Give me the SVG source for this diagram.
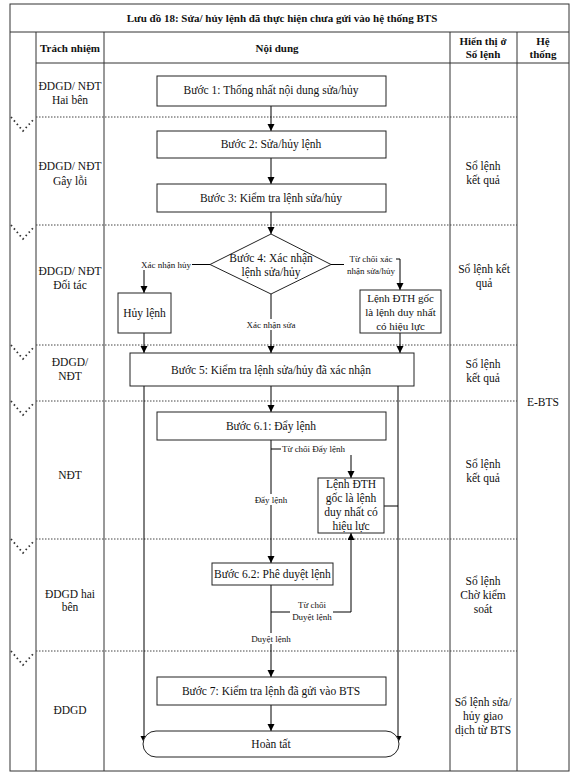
<svg xmlns="http://www.w3.org/2000/svg" width="576" height="782" viewBox="0 0 576 782">
<defs>
<marker id="ah" markerUnits="userSpaceOnUse" markerWidth="8" markerHeight="8" refX="7" refY="3.5" orient="auto">
<path d="M0,0 L7,3.5 L0,7 z" fill="#000"/>
</marker>
<style>
text{font-family:"Liberation Serif","Times New Roman",serif;fill:#111;}
.t{font-size:11.5px;text-anchor:middle;}
.n{font-size:11px;text-anchor:middle;}
.s{font-size:9px;text-anchor:middle;}
.h{font-size:11px;font-weight:bold;text-anchor:middle;}
.box{fill:#fff;stroke:#222;stroke-width:1;}
.grid{stroke:#333;stroke-width:1;fill:none;}
.dot{stroke:#444;stroke-width:1;stroke-dasharray:1.5,1.5;fill:none;}
.chev{stroke:#333;stroke-width:1.8;stroke-dasharray:1.5,3;fill:none;}
.c{stroke:#000;stroke-width:1;fill:none;}
.a{stroke:#000;stroke-width:1;fill:none;marker-end:url(#ah);}
.bg{fill:#fff;}
</style>
</defs>
<rect width="576" height="782" fill="#fff"/>
<g id="table">
<rect x="10" y="4" width="559" height="767" class="grid"/>
<line x1="10" y1="32" x2="569" y2="32" class="grid"/>
<line x1="36" y1="63" x2="569" y2="63" class="grid"/>
<line x1="36" y1="32" x2="36" y2="771" class="grid"/>
<line x1="104" y1="32" x2="104" y2="771" class="grid"/>
<line x1="450" y1="32" x2="450" y2="771" class="grid"/>
<line x1="517" y1="32" x2="517" y2="771" class="grid"/>
<path class="dot" d="M36,117H517M36,225H517M36,345H517M36,401H517M36,539H517M36,651H517"/>
<path class="chev" d="M11,117L23,131L34,119M11,225L23,239L34,227M11,345L23,359L34,347M11,401L23,415L34,403M11,539L23,553L34,541M11,651L23,665L34,653"/>
<text x="282" y="22" class="h">Lưu đồ 18: Sửa/ hủy lệnh đã thực hiện chưa gửi vào hệ thống BTS</text>
<text x="70" y="52" class="h">Trách nhiệm</text>
<text x="277" y="52" class="h">Nội dung</text>
<text x="483" y="45" class="h">Hiển thị ở</text>
<text x="483" y="58" class="h">Sổ lệnh</text>
<text x="543" y="45" class="h">Hệ</text>
<text x="543" y="58" class="h">thống</text>
<text x="70" y="90" class="t">ĐDGD/ NĐT</text>
<text x="70" y="104" class="t">Hai bên</text>
<text x="70" y="170" class="t">ĐDGD/ NĐT</text>
<text x="70" y="185" class="t">Gây lỗi</text>
<text x="70" y="275" class="t">ĐDGD/ NĐT</text>
<text x="70" y="289" class="t">Đối tác</text>
<text x="70" y="366" class="t">ĐDGD/</text>
<text x="70" y="380" class="t">NĐT</text>
<text x="70" y="479" class="t">NĐT</text>
<text x="70" y="598" class="t">ĐDGD hai</text>
<text x="70" y="611" class="t">bên</text>
<text x="70" y="714" class="t">ĐDGD</text>
<text x="483" y="170" class="t">Sổ lệnh</text>
<text x="483" y="184" class="t">kết quả</text>
<text x="484" y="273" class="t">Sổ lệnh kết</text>
<text x="484" y="287" class="t">quả</text>
<text x="483" y="368" class="t">Sổ lệnh</text>
<text x="483" y="382" class="t">kết quả</text>
<text x="483" y="468" class="t">Sổ lệnh</text>
<text x="483" y="482" class="t">kết quả</text>
<text x="483" y="585" class="t">Sổ lệnh</text>
<text x="483" y="599" class="t">Chờ kiểm</text>
<text x="483" y="613" class="t">soát</text>
<text x="483" y="706" class="t">Sổ lệnh sửa/</text>
<text x="483" y="720" class="t">hủy giao</text>
<text x="483" y="734" class="t">dịch từ BTS</text>
<text x="543" y="406" class="t">E-BTS</text>
</g>
<g id="connectors">
<path class="a" d="M271,106V131"/>
<path class="a" d="M271,158V184"/>
<path class="a" d="M271,212V234"/>
<path class="c" d="M210,264.5H192"/>
<path class="a" d="M144,270V293"/>
<path class="c" d="M331,264.5H344"/>
<path class="a" d="M396,259H400V290"/>
<path class="a" d="M271,294V353"/>
<path class="a" d="M144,333V353"/>
<path class="a" d="M400,333V353"/>
<path class="a" d="M271,386V412"/>
<path class="a" d="M144,386V743"/>
<path class="a" d="M398,386V743"/>
<path class="a" d="M271,440V563"/>
<path class="c" d="M271,449H281"/>
<path class="a" d="M351,455V478"/>
<path class="c" d="M384,506H398"/>
<path class="c" d="M271,612H290"/>
<path class="a" d="M333,612H351V533"/>
<path class="a" d="M271,585V677"/>
<path class="a" d="M271,705V731"/>
<rect x="240" y="319" width="62" height="11" class="bg"/>
<text x="271" y="328" class="s">Xác nhận sửa</text>
<rect x="250" y="494" width="42" height="11" class="bg"/>
<text x="271" y="503" class="s">Đẩy lệnh</text>
<rect x="245" y="633" width="52" height="11" class="bg"/>
<text x="271" y="642" class="s">Duyệt lệnh</text>
<text x="191" y="268" class="s" style="text-anchor:end">Xác nhận hủy</text>
<text x="371" y="262" class="s">Từ chối xác</text>
<text x="371" y="274" class="s">nhận sửa/hủy</text>
<text x="282" y="452" class="s" style="text-anchor:start">Từ chối Đẩy lệnh</text>
<text x="312" y="608" class="s">Từ chối</text>
<text x="312" y="620" class="s">Duyệt lệnh</text>
</g>
<g id="step1"><rect x="157" y="76" width="229" height="30" class="box"/><text x="271" y="94" class="t">Bước 1: Thống nhất nội dung sửa/hủy</text></g>
<g id="step2"><rect x="157" y="131" width="229" height="27" class="box"/><text x="271" y="148" class="t">Bước 2: Sửa/hủy lệnh</text></g>
<g id="step3"><rect x="157" y="184" width="229" height="28" class="box"/><text x="271" y="202" class="t">Bước 3: Kiểm tra lệnh sửa/hủy</text></g>
<g id="step4"><polygon points="271,234 331,264.5 271,294 210,264.5" class="box"/><text x="271" y="262" class="t">Bước 4: Xác nhận</text><text x="271" y="276" class="t">lệnh sửa/hủy</text></g>
<g id="huy"><rect x="118" y="293" width="53" height="40" class="box"/><text x="144.5" y="317" class="t">Hủy lệnh</text></g>
<g id="goc1"><rect x="360" y="290" width="81" height="43" class="box"/><text x="400.5" y="302" class="n">Lệnh ĐTH gốc</text><text x="400.5" y="316" class="n">là lệnh duy nhất</text><text x="400.5" y="330" class="n">có hiệu lực</text></g>
<g id="step5"><rect x="130" y="353" width="284" height="33" class="box"/><text x="271" y="374" class="t">Bước 5: Kiểm tra lệnh sửa/hủy đã xác nhận</text></g>
<g id="step61"><rect x="157" y="412" width="229" height="28" class="box"/><text x="271" y="430" class="t">Bước 6.1: Đẩy lệnh</text></g>
<g id="goc2"><rect x="318" y="478" width="66" height="55" class="box"/><text x="351" y="488" class="t">Lệnh ĐTH</text><text x="351" y="502" class="t">gốc là lệnh</text><text x="351" y="516" class="t">duy nhất có</text><text x="351" y="530" class="t">hiệu lực</text></g>
<g id="step62"><rect x="212" y="563" width="121" height="22" class="box"/><text x="272.5" y="578" class="t">Bước 6.2: Phê duyệt lệnh</text></g>
<g id="step7"><rect x="157" y="677" width="229" height="28" class="box"/><text x="271" y="695" class="t">Bước 7: Kiểm tra lệnh đã gửi vào BTS</text></g>
<g id="done"><rect x="143" y="731" width="256" height="26" rx="13" ry="13" class="box"/><text x="271" y="748" class="t">Hoàn tất</text></g>
</svg>
